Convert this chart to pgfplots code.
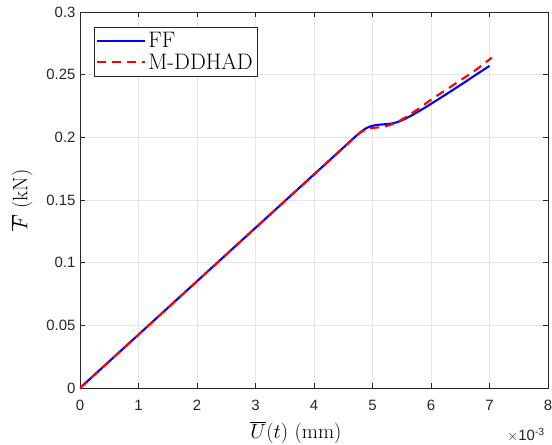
\documentclass[border=0pt]{standalone}
\usepackage{fontspec}
\usepackage{pgfplots}
\pgfplotsset{compat=1.18}
\newfontfamily\ticksf{Liberation Sans}
\definecolor{axgray}{rgb}{0.15,0.15,0.15}
\definecolor{gridgray}{rgb}{0.9,0.9,0.9}
\begin{document}
\begin{tikzpicture}
\begin{axis}[
  scale only axis,
  width=468bp, height=376bp,
  xmin=0, xmax=8, ymin=0, ymax=0.3,
  xtick={0,1,2,3,4,5,6,7,8},
  ytick={0,0.05,0.1,0.15,0.2,0.25,0.3},
  yticklabels={0,0.05,0.1,0.15,0.2,0.25,0.3},
  scaled ticks=false,
  /pgf/number format/assume math mode=true,
  tick label style={font=\ticksf\fontsize{15}{17}\selectfont, text=axgray},
  xticklabel style={yshift=-9bp},
  yticklabel style={xshift=-1bp},
  tick align=inside,
  major tick length=5bp,
  tick style={axgray, line width=0.5bp},
  axis line style={axgray, line width=0.6bp},
  grid=major,
  major grid style={gridgray, line width=0.6bp},
  xlabel={$\overline{U}(t)~(\mathrm{mm})$},
  ylabel={$\overline{F}~(\mathrm{kN})$},
  label style={font=\fontsize{21}{23}\selectfont},
  xlabel style={yshift=-4bp, xshift=-18bp},
  ylabel style={yshift=7bp},
  legend style={at={(axis description cs:0.03,0.96)}, anchor=north west,
    draw=axgray, fill=white,
    font=\fontsize{22.5}{25}\selectfont,
    inner xsep=2bp, inner ysep=3.5bp},
  legend cell align=left,
  legend image code/.code={\draw[#1, line width=2.1bp] (0bp,0bp) -- (48bp,0bp);},
]
\addplot[blue, line width=2.1bp, smooth] coordinates {
(0,0) (1,0.0426) (2,0.0852) (3,0.1278) (4,0.1704) (4.5,0.1917) (4.7,0.2003)
(4.8,0.2043) (4.9,0.2075) (5.0,0.2092) (5.1,0.2100) (5.2,0.2104) (5.3,0.2108)
(5.4,0.2118) (5.5,0.2135) (5.6,0.2158) (5.7,0.2183) (5.8,0.2210) (5.9,0.2238)
(6.0,0.2267) (6.2,0.2326) (6.4,0.2386) (6.6,0.2447) (6.8,0.2509) (7.0,0.2570)
};
\addlegendentry{FF}
\addplot[red, line width=2.1bp, dash pattern=on 9bp off 6bp, smooth] coordinates {
(0,0) (1,0.0426) (2,0.0852) (3,0.1278) (4,0.1704) (4.5,0.1917) (4.7,0.2003)
(4.8,0.2040) (4.9,0.2065) (5.0,0.2075) (5.1,0.2079) (5.2,0.2086) (5.3,0.2099)
(5.4,0.2118) (5.5,0.2142) (5.6,0.2170) (5.8,0.2232) (6.0,0.2300) (6.2,0.2362)
(6.4,0.2423) (6.6,0.2485) (6.8,0.2550) (7.04,0.2636)
};
\addlegendentry{M-DDHAD}
\end{axis}
\node[anchor=north east, font=\ticksf\fontsize{15}{17}\selectfont, text=axgray, inner sep=0pt]
  at ([yshift=-40bp, xshift=-3bp]current axis.south east) {$\times$10\textsuperscript{-3}};
\pgfresetboundingbox
\path ([xshift=-80bp,yshift=-57bp]current axis.south west) rectangle ([xshift=4bp,yshift=12bp]current axis.north east);
\end{tikzpicture}
\end{document}
